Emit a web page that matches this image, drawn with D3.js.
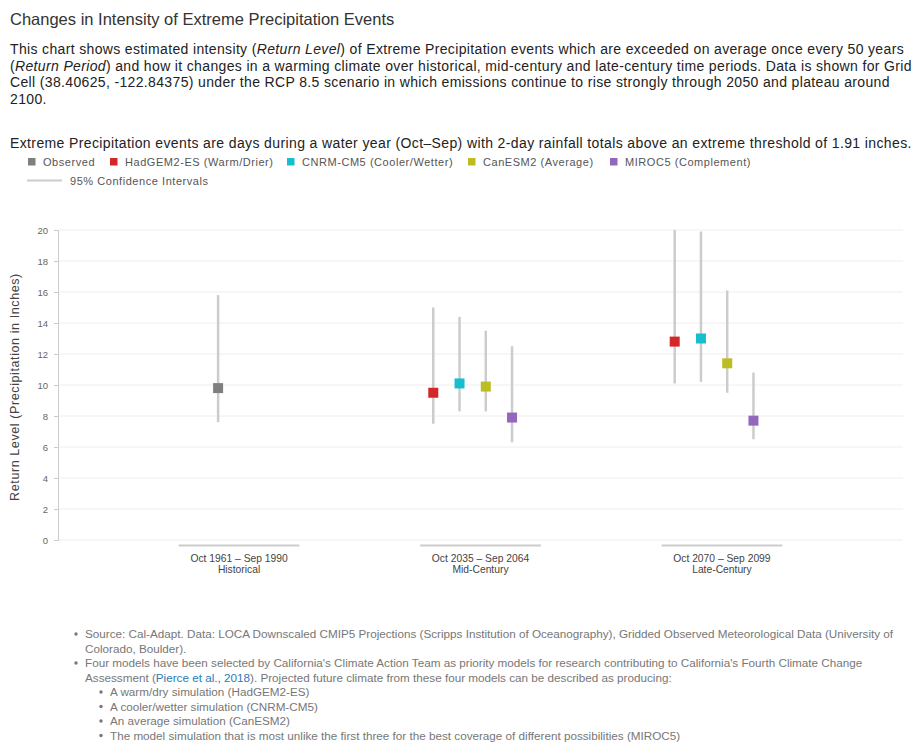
<!DOCTYPE html>
<html>
<head>
<meta charset="utf-8">
<script src="https://cdn.jsdelivr.net/npm/d3@7"></script>
<style>
  body { margin: 0; background: #fff; font-family: "Liberation Sans", Arial, sans-serif; }
  .tick text { font-family: "Liberation Sans", Arial, sans-serif; }
</style>
</head>
<body>
<div id="chart"></div>
<script>
// periods on the x axis
let periods = ["Historical", "Mid-Century", "Late-Century"];
let periodRanges = ["Oct 1961 \u2013 Sep 1990", "Oct 2035 \u2013 Sep 2064", "Oct 2070 \u2013 Sep 2099"];

// models
let models = ["HadGEM2-ES", "CNRM-CM5", "CanESM2", "MIROC5"];
let modelLabels = ["HadGEM2-ES (Warm/Drier)", "CNRM-CM5 (Cooler/Wetter)", "CanESM2 (Average)", "MIROC5 (Complement)"];
let modelColors = ["#d62728", "#17becf", "#bcbd22", "#9467bd"];

// observed (historical)
let observedValue = [9.8];
let observedLower = [7.6];
let observedUpper = [15.8];

// mid-century return levels
let midValues = [9.5, 10.1, 9.9, 7.9];
let midLower = [7.5, 8.3, 8.3, 6.3];
let midUpper = [15.0, 14.4, 13.5, 12.5];

// late-century return levels
let lateValues = [12.8, 13.0, 11.4, 7.7];
let lateLower = [10.1, 10.2, 9.5, 6.5];
let lateUpper = [20.0, 19.9, 16.1, 10.8];

let yTicks = [0, 2, 4, 6, 8, 10, 12, 14, 16, 18, 20];

let width = 920, height = 743;
let margin = { top: 230, right: 17, bottom: 203, left: 58 };

var svg = d3
  .select("#chart")
  .append("svg")
  .attr("width", width)
  .attr("height", height)
  .style("background-color", "white");

// Title + description
svg.append("text")
  .attr("x", 10).attr("y", 25)
  .style("font-size", "16.5px")
  .style("fill", "#333")
  .text("Changes in Intensity of Extreme Precipitation Events");

let desc = svg.append("text")
  .attr("x", 10).attr("y", 54)
  .style("font-size", "14px")
  .style("letter-spacing", "0.35px")
  .style("fill", "#222");

let descLines = [
  [["This chart shows estimated intensity (", false], ["Return Level", true], [") of Extreme Precipitation events which are exceeded on average once every 50 years", false]],
  [["(", false], ["Return Period", true], [") and how it changes in a warming climate over historical, mid-century and late-century time periods. Data is shown for Grid", false]],
  [["Cell (38.40625, -122.84375) under the RCP 8.5 scenario in which emissions continue to rise strongly through 2050 and plateau around", false]],
  [["2100.", false]]
];
descLines.forEach((line, i) => {
  line.forEach((part, j) => {
    let t = desc.append("tspan").text(part[0]);
    if (j === 0) t.attr("x", 10).attr("y", 54 + i * 16.6);
    if (part[1]) t.style("font-style", "italic");
  });
});

svg.append("text")
  .attr("x", 10).attr("y", 148)
  .style("font-size", "14px")
  .style("letter-spacing", "0.38px")
  .style("fill", "#222")
  .text("Extreme Precipitation events are days during a water year (Oct\u2013Sep) with 2-day rainfall totals above an extreme threshold of 1.91 inches.");

// Legend
let legendItems = [{ label: "Observed", color: "#7f7f7f", x: 28 }];
let legendX = [110, 287, 468, 610];
models.forEach((m, i) => legendItems.push({ label: modelLabels[i], color: modelColors[i], x: legendX[i] }));

let legend = svg.append("g").attr("class", "legend")
  .style("font-size", "11px")
  .style("letter-spacing", "0.55px");
legendItems.forEach((d) => {
  legend.append("rect")
    .attr("x", d.x).attr("y", 158)
    .attr("width", 7.5).attr("height", 7.5)
    .style("fill", d.color);
  legend.append("text")
    .attr("x", d.x + 15).attr("y", 166)
    .style("fill", "#555")
    .text(d.label);
});
legend.append("line")
  .attr("x1", 27).attr("x2", 62).attr("y1", 180.5).attr("y2", 180.5)
  .style("stroke", "#ccc").style("stroke-width", 2);
legend.append("text")
  .attr("x", 70).attr("y", 184.5)
  .style("fill", "#555")
  .text("95% Confidence Intervals");

// Scales
let y = d3.scaleLinear().domain([0, 20]).range([height - margin.bottom, margin.top]);
let x0 = d3.scaleBand()
  .domain(periods)
  .range([margin.left, width - margin.right])
  .paddingInner(0.5)
  .paddingOuter(0.5);
let x1 = d3.scaleBand()
  .domain(models)
  .range([0, x0.bandwidth() * 0.87]);

// Gridlines
svg.append("g")
  .attr("class", "grid")
  .selectAll("line")
  .data(yTicks)
  .join("line")
  .attr("x1", margin.left)
  .attr("x2", width - margin.right)
  .attr("y1", (d) => y(d))
  .attr("y2", (d) => y(d))
  .style("stroke", "#eee")
  .style("stroke-width", 1);

// Y axis
let yAxis = svg.append("g")
  .attr("class", "yAxis")
  .attr("transform", "translate(" + margin.left + ",0)")
  .call(d3.axisLeft(y).tickValues(yTicks).tickSize(4).tickPadding(6));
yAxis.select(".domain").style("stroke", "#ccc");
yAxis.selectAll(".tick line").style("stroke", "#ccc");
yAxis.selectAll(".tick text").style("fill", "#666").style("font-size", "9.5px");

// y axis label
svg.append("text")
  .attr("transform", "translate(19," + (y(10) + 2) + ") rotate(-90)")
  .attr("text-anchor", "middle")
  .style("font-size", "12.5px")
  .style("letter-spacing", "0.6px")
  .style("fill", "#444")
  .text("Return Level (Precipitation in Inches)");

// X axis: one segment per period
let xAxis = svg.append("g").attr("class", "xAxis");
periods.forEach((p, i) => {
  xAxis.append("line")
    .attr("x1", x0(p)).attr("x2", x0(p) + x0.bandwidth())
    .attr("y1", y(0) + 5.5).attr("y2", y(0) + 5.5)
    .style("stroke", "#ccc").style("stroke-width", 2);
  let t = xAxis.append("text")
    .attr("text-anchor", "middle")
    .style("font-size", "10.3px")
    .style("fill", "#444");
  t.append("tspan").attr("x", x0(p) + x0.bandwidth() / 2).attr("y", y(0) + 22).text(periodRanges[i]);
  t.append("tspan").attr("x", x0(p) + x0.bandwidth() / 2).attr("y", y(0) + 33).text(p);
});

// Build point data
let points = [];
observedValue.forEach((v, i) => {
  points.push({ period: periods[0], cx: x0(periods[0]) + x1(models[1]) + x1.bandwidth() / 2, value: v, lower: observedLower[i], upper: observedUpper[i], color: "#7f7f7f" });
});
models.forEach((m, i) => {
  points.push({ period: periods[1], cx: x0(periods[1]) + x1(m) + x1.bandwidth() / 2, value: midValues[i], lower: midLower[i], upper: midUpper[i], color: modelColors[i] });
  points.push({ period: periods[2], cx: x0(periods[2]) + x1(m) + x1.bandwidth() / 2, value: lateValues[i], lower: lateLower[i], upper: lateUpper[i], color: modelColors[i] });
});

// Confidence intervals
svg.append("g")
  .selectAll("line")
  .data(points)
  .join("line")
  .attr("x1", (d) => d.cx).attr("x2", (d) => d.cx)
  .attr("y1", (d) => y(d.lower)).attr("y2", (d) => y(d.upper))
  .style("stroke", "#ccc")
  .style("stroke-width", 2.5);

// Markers
let size = 10;
svg.append("g")
  .selectAll("rect")
  .data(points)
  .join("rect")
  .attr("x", (d) => d.cx - size / 2)
  .attr("y", (d) => y(d.value) - size / 2)
  .attr("width", size).attr("height", size)
  .style("fill", (d) => d.color);

// Footer notes
let notes = svg.append("g").attr("class", "notes").style("font-size", "11.7px").style("fill", "#777");
let noteLines = [
  { x: 85, y: 638, bullet: true, parts: [["Source: Cal-Adapt. Data: LOCA Downscaled CMIP5 Projections (Scripps Institution of Oceanography), Gridded Observed Meteorological Data (University of", false]] },
  { x: 85, y: 652.5, bullet: false, parts: [["Colorado, Boulder).", false]] },
  { x: 85, y: 667, bullet: true, parts: [["Four models have been selected by California's Climate Action Team as priority models for research contributing to California's Fourth Climate Change", false]] },
  { x: 85, y: 681.5, bullet: false, parts: [["Assessment (", false], ["Pierce et al., 2018", true], ["). Projected future climate from these four models can be described as producing:", false]] },
  { x: 110, y: 696, bullet: true, parts: [["A warm/dry simulation (HadGEM2-ES)", false]] },
  { x: 110, y: 710.5, bullet: true, parts: [["A cooler/wetter simulation (CNRM-CM5)", false]] },
  { x: 110, y: 725, bullet: true, parts: [["An average simulation (CanESM2)", false]] },
  { x: 110, y: 739.5, bullet: true, parts: [["The model simulation that is most unlike the first three for the best coverage of different possibilities (MIROC5)", false]] }
];
noteLines.forEach((l) => {
  if (l.bullet) {
    notes.append("circle").attr("cx", l.x - 9).attr("cy", l.y - 4).attr("r", 1.7).style("fill", "#777");
  }
  let t = notes.append("text").attr("x", l.x).attr("y", l.y);
  l.parts.forEach((p) => {
    let s = t.append("tspan").text(p[0]);
    if (p[1]) s.style("fill", "#2b7bb9");
  });
});
</script>
</body>
</html>
